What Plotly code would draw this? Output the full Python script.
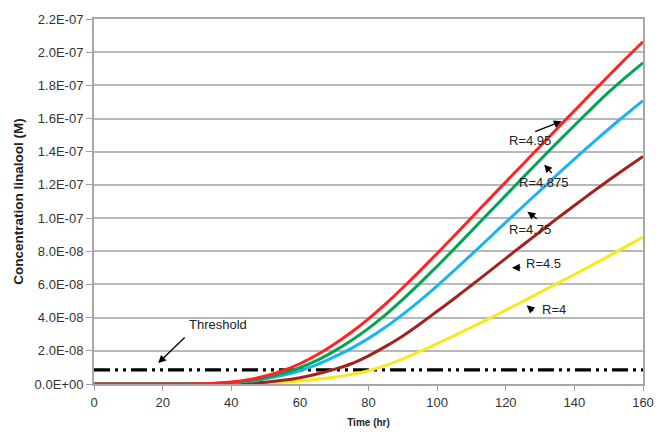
import plotly.graph_objects as go

# ---- data (concentrations in units of 1e-8 M) ----
time_hr = [0, 5, 10, 15, 20, 25, 30, 35, 40, 45, 50, 55, 60, 65, 70, 75, 80, 85, 90, 95,
           100, 105, 110, 115, 120, 125, 130, 135, 140, 145, 150, 155, 160]

r495_e8 = [0, 0, 0, 0, 0, 0, 0.01, 0.04, 0.12, 0.26, 0.48, 0.80, 1.22, 1.76, 2.40, 3.12,
           3.93, 4.83, 5.80, 6.82, 7.87, 8.94, 10.02, 11.10, 12.18, 13.25, 14.32, 15.40,
           16.47, 17.53, 18.58, 19.62, 20.63]
r4875_e8 = [0, 0, 0, 0, 0, 0, 0.01, 0.03, 0.09, 0.20, 0.38, 0.64, 0.98, 1.42, 1.98, 2.62,
            3.35, 4.18, 5.10, 6.08, 7.10, 8.15, 9.22, 10.30, 11.37, 12.44, 13.50, 14.55,
            15.58, 16.60, 17.59, 18.50, 19.36]
r475_e8 = [0, 0, 0, 0, 0, 0, 0.005, 0.02, 0.07, 0.16, 0.31, 0.52, 0.80, 1.17, 1.63, 2.15,
           2.75, 3.43, 4.20, 5.03, 5.92, 6.85, 7.80, 8.77, 9.74, 10.70, 11.66, 12.62,
           13.56, 14.48, 15.37, 16.24, 17.08]
r45_e8 = [0, 0, 0, 0, 0, 0, 0, 0.005, 0.015, 0.05, 0.11, 0.22, 0.38, 0.60, 0.88, 1.22,
          1.70, 2.27, 2.90, 3.62, 4.38, 5.15, 5.95, 6.76, 7.57, 8.38, 9.18, 9.98,
          10.76, 11.53, 12.28, 13.01, 13.72]
r4_e8 = [0, 0, 0, 0, 0, 0, 0, 0, 0.005, 0.02, 0.05, 0.10, 0.18, 0.28, 0.41, 0.58,
         0.80, 1.12, 1.52, 1.96, 2.43, 2.92, 3.42, 3.93, 4.45, 4.98, 5.52, 6.06,
         6.60, 7.15, 7.71, 8.28, 8.86]

threshold_x = [0, 160]
threshold_e8 = [0.85, 0.85]

series_names = ["R=4.95", "R=4.875", "R=4.75", "R=4.5", "R=4"]
series_vals = [r495_e8, r4875_e8, r475_e8, r45_e8, r4_e8]
series_colors = ["#ff2424", "#00a550", "#1ab4ee", "#a3231c", "#f7ea1c"]

y_tickvals = [0, 2e-8, 4e-8, 6e-8, 8e-8, 1e-7, 1.2e-7, 1.4e-7, 1.6e-7, 1.8e-7, 2e-7, 2.2e-7]
y_ticktext = ["0.0E+00", "2.0E-08", "4.0E-08", "6.0E-08", "8.0E-08", "1.0E-07",
              "1.2E-07", "1.4E-07", "1.6E-07", "1.8E-07", "2.0E-07", "2.2E-07"]
x_tickvals = [0, 20, 40, 60, 80, 100, 120, 140, 160]

fig = go.Figure()

fig.add_trace(go.Scatter(x=threshold_x, y=[v * 1e-8 for v in threshold_e8], mode="lines",
                         line=dict(color="black", width=3.2,
                                   dash="16px,5px,3px,5px,3px,5px"),
                         showlegend=False, hoverinfo="skip"))

for name, vals, col in zip(series_names[::-1], series_vals[::-1], series_colors[::-1]):
    fig.add_trace(go.Scatter(x=time_hr, y=[v * 1e-8 for v in vals], mode="lines", name=name,
                             line=dict(color=col, width=3, shape="spline", smoothing=0.5),
                             showlegend=False))

font_family = "Liberation Sans, Arial, sans-serif"
lbl_font = dict(family=font_family, size=13, color="#222")

# label positions (data coords): text center, arrow head, arrow tail offset (px)
labels = [
    ("R=4.95", 127.1, 1.468e-7, 136.3, 1.584e-7, -28, 11),
    ("R=4.875", 131.2, 1.215e-7, 131.2, 1.322e-7, 9, 10),
    ("R=4.75", 127.1, 0.932e-7, 126.3, 1.038e-7, 11, 8),
    ("R=4.5", 130.9, 0.726e-7, 121.8, 0.701e-7, 10, 0),
    ("R=4", 134.1, 0.45e-7, 126.1, 0.474e-7, 8, 7),
    ("Threshold", 36.2, 3.56e-8, 18.7, 1.26e-8, 28, -27),
]
annotations = []
for txt, tx, ty, hx, hy, ax, ay in labels:
    annotations.append(dict(x=tx, y=ty, xref="x", yref="y", text=txt, showarrow=False,
                            font=lbl_font, xanchor="center", yanchor="middle"))
    annotations.append(dict(x=hx, y=hy, xref="x", yref="y", text="", showarrow=True,
                            ax=ax, ay=ay, arrowhead=2, arrowsize=1.2, arrowwidth=1.3,
                            arrowcolor="black", standoff=0, startstandoff=0))

fig.update_layout(
    width=669, height=439,
    margin=dict(l=94, r=26, t=12, b=53),
    paper_bgcolor="white", plot_bgcolor="white",
    font=dict(family=font_family, size=13, color="#333"),
    annotations=annotations,
    showlegend=False,
)
fig.update_xaxes(range=[0, 160], tickvals=x_tickvals, ticks="outside", ticklen=5,
                 tickcolor="#a0a0a0", showline=True, linecolor="#a8a8a8", linewidth=2,
                 mirror=True, showgrid=False, zeroline=False,
                 tickfont=dict(family=font_family, size=13, color="#333"),
                 title=dict(text="<b>Time (hr)</b>", standoff=10,
                            font=dict(family=font_family, size=10, color="#222")))
fig.update_yaxes(range=[0, 2.2e-7], tickvals=y_tickvals, ticktext=y_ticktext,
                 ticks="outside", ticklen=6, tickcolor="#a0a0a0",
                 showline=True, linecolor="#a8a8a8", linewidth=2, mirror=True,
                 showgrid=True, gridcolor="#b8b8b8", gridwidth=1.5, zeroline=False,
                 tickfont=dict(family=font_family, size=13, color="#333"),
                 title=dict(text="<b>Concentration linalool (M)</b>", standoff=8,
                            font=dict(family=font_family, size=13.5, color="#222")))

fig.write_html("out.html")
